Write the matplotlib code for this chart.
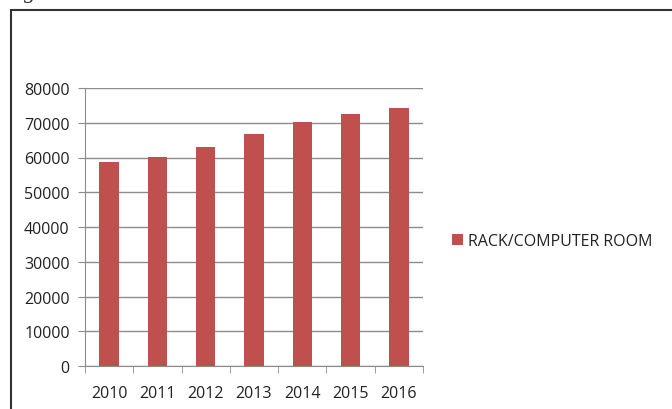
import numpy as np
import matplotlib.pyplot as plt
from matplotlib.patches import Rectangle

years = ['2010', '2011', '2012', '2013', '2014', '2015', '2016']
rack_room = [58600, 60200, 63100, 66700, 70300, 72400, 74300]
series_name = 'RACK/COMPUTER ROOM'

plt.rcParams['font.family'] = ['Open Sans', 'DejaVu Sans']

fig = plt.figure(figsize=(6.72, 4.10), dpi=100)
ax = fig.add_axes([85/672, 1 - 367/410, (423 - 85)/672, (367 - 89)/410])

x = np.arange(len(years))
ax.bar(x, rack_room, width=0.4, color='#C0504D', label=series_name, zorder=3)

ax.set_xlim(-0.5, len(years) - 0.5)
ax.set_ylim(0, 80000)
ax.set_yticks(np.arange(0, 80001, 10000))
ax.set_xticks(x)
ax.set_xticklabels(years)
ax.set_xticks(np.arange(-0.5, len(years), 1), minor=True)

ax.grid(axis='y', color='#8c8c8c', linewidth=1, zorder=0)
for side in ['top', 'right']:
    ax.spines[side].set_visible(False)
for side in ['left', 'bottom']:
    ax.spines[side].set_color('#8c8c8c')
ax.tick_params(axis='y', length=5, color='#8c8c8c', pad=6, labelsize=11.5, labelcolor='#222222')
ax.tick_params(axis='x', which='major', length=0, pad=14, labelsize=11.5, labelcolor='#222222')
ax.tick_params(axis='x', which='minor', length=5, color='#8c8c8c')

fig.legend(loc='center left', bbox_to_anchor=(438/672, 1 - 242/410), frameon=False,
           fontsize=11.5, handlelength=0.65, handleheight=0.65, handletextpad=0.35,
           labelcolor='#222222')

# outer frame of the chart box
fig.patches.append(Rectangle((11/672, -0.05), 1.0, 1 - 11/410 + 0.05, transform=fig.transFigure,
                             fill=False, edgecolor='#333333', linewidth=1.5))
# cut-off caption above the box
fig.text(22/672, 1 + 1/410, 'g', family='DejaVu Serif', fontsize=15, va='baseline', color='#333333')

fig.savefig('out.png', dpi=100)
